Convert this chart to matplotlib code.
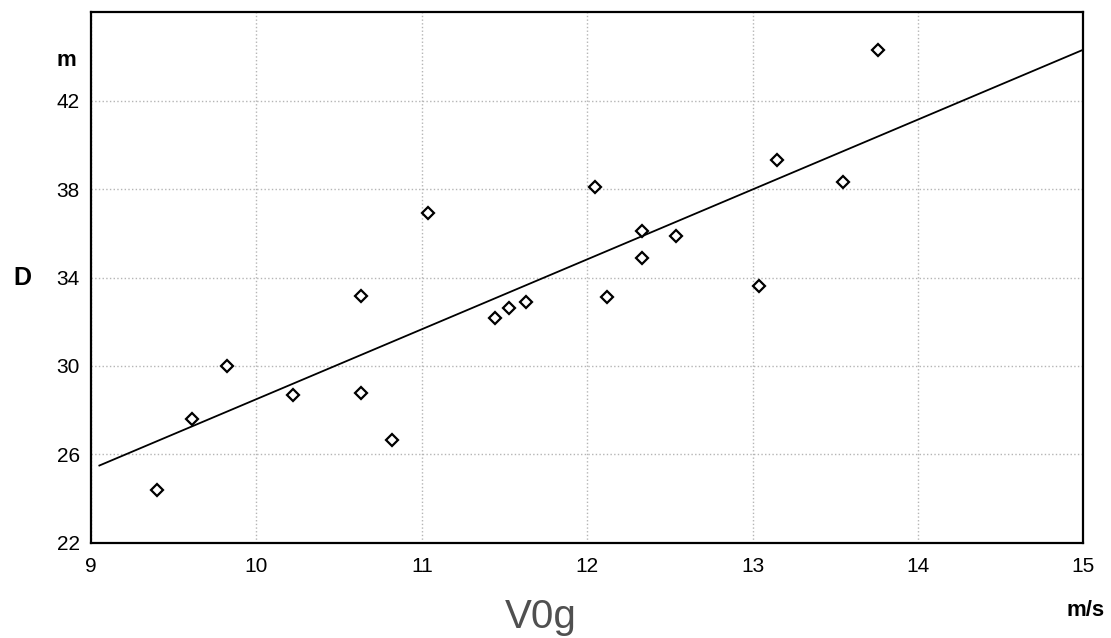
import numpy as np
import matplotlib.pyplot as plt

# data
v0g = [9.40, 9.61, 9.82, 10.22, 10.63, 10.63, 10.82, 11.04, 11.44, 11.53,
       11.63, 12.05, 12.12, 12.33, 12.33, 12.54, 13.04, 13.15, 13.55, 13.76]
dist = [24.4, 27.6, 30.0, 28.7, 28.8, 33.15, 26.65, 36.9, 32.15, 32.6,
        32.9, 38.1, 33.1, 36.1, 34.9, 35.9, 33.6, 39.3, 38.3, 44.3]
fit_x = [9.05, 15.0]
fit_y = [25.5, 44.3]
xticks = [9, 10, 11, 12, 13, 14, 15]
yticks = [22, 26, 30, 34, 38, 42]

plt.rcParams['font.family'] = ['Liberation Sans', 'DejaVu Sans']

fig = plt.figure(figsize=(11.11, 6.38), dpi=100)
ax = fig.add_axes([0.082, 0.149, 0.893, 0.832])

ax.plot(fit_x, fit_y, color='black', lw=1.3, zorder=2)
ax.plot(v0g, dist, 'D', ms=6.5, mfc='white', mec='black', mew=1.6, zorder=3)

ax.set_xlim(9, 15)
ax.set_ylim(22, 46)
ax.set_xticks(xticks)
ax.set_yticks(yticks)
ax.tick_params(labelsize=15, length=0)
ax.tick_params(axis='x', pad=10)
ax.tick_params(axis='y', pad=8)
ax.grid(True, color='#b5b5b5', linestyle=':', lw=1)
for s in ax.spines.values():
    s.set_linewidth(1.6)

# axis captions placed like the original
fig.text(0.012, 1 - 278 / 638, 'D', fontsize=18, fontweight='bold', va='center')
fig.text(0.060, 1 - 60 / 638, 'm', fontsize=16, fontweight='bold', va='center', ha='center')
fig.text(0.977, 1 - 611 / 638, 'm/s', fontsize=16, fontweight='bold', va='center', ha='center')
fig.text(0.487, 1 - 617 / 638, 'V0g', fontsize=29, color='#505050', va='center', ha='center')

fig.savefig('out.png', dpi=100, facecolor='white')
